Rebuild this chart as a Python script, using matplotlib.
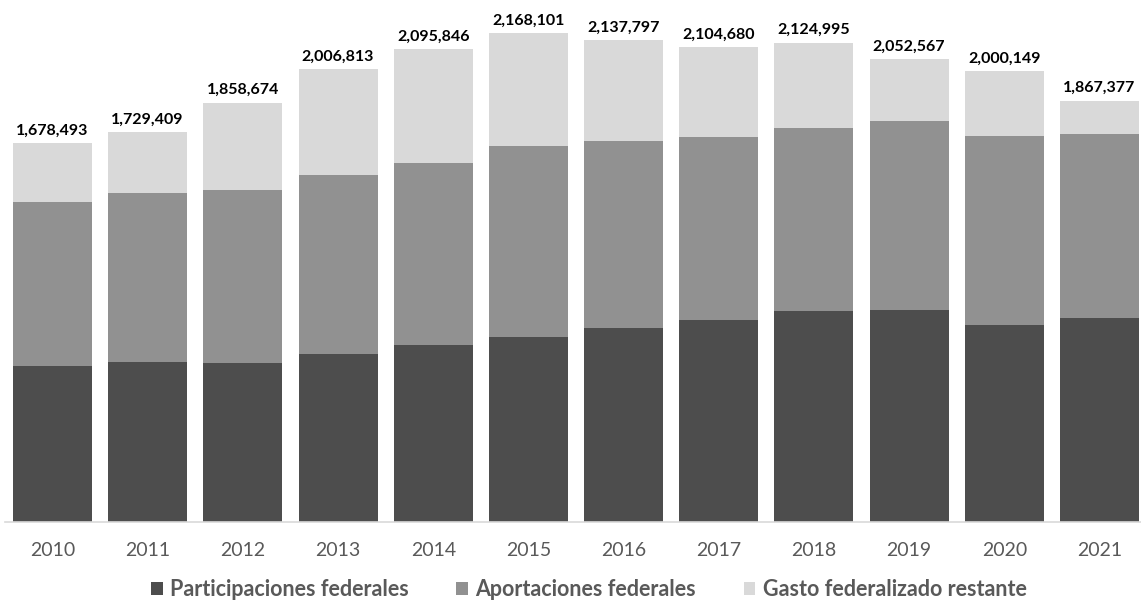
import matplotlib
matplotlib.use("Agg")
import matplotlib.pyplot as plt
import numpy as np

plt.rcParams['font.family'] = ['Lato', 'DejaVu Sans']

years = ['2010', '2011', '2012', '2013', '2014', '2015',
         '2016', '2017', '2018', '2019', '2020', '2021']
totales = [1678493, 1729409, 1858674, 2006813, 2095846, 2168101,
           2137797, 2104680, 2124995, 2052567, 2000149, 1867377]
participaciones = [690000, 708000, 703000, 746000, 783000, 820000,
                   857000, 894000, 933000, 939000, 872000, 903000]
aportaciones = [728000, 750000, 768000, 792000, 807000, 845000,
                832000, 814000, 812000, 838000, 839000, 817000]
gasto_restante = [t - p - a for t, p, a in zip(totales, participaciones, aportaciones)]

c_dark = '#4d4d4d'
c_mid = '#919191'
c_light = '#d9d9d9'
txt_gray = '#595959'

fig = plt.figure(figsize=(11.41, 6.03), dpi=100)
ax = fig.add_axes([0.0043, 0.135, 1.001, 0.848])

x = np.arange(len(years))
w = 0.83
p = np.array(participaciones)
a = np.array(aportaciones)
g = np.array(gasto_restante)

ax.bar(x, p, w, color=c_dark, label='Participaciones federales')
ax.bar(x, a, w, bottom=p, color=c_mid, label='Aportaciones federales')
ax.bar(x, g, w, bottom=p + a, color=c_light, label='Gasto federalizado restante')

for xi, t in zip(x, totales):
    ax.annotate(f"{t:,}", (xi, t), xytext=(0, 4), textcoords='offset points',
                ha='center', va='bottom', fontsize=11.5, fontweight='bold', color='black')

ax.set_xlim(-0.5, 11.5)
ax.set_ylim(0, 0.848 * 603 * 4438)
ax.set_xticks(x)
ax.set_xticklabels(years, fontsize=14, color=txt_gray)
ax.tick_params(axis='x', length=0, pad=15)
ax.set_yticks([])
for s in ['top', 'right', 'left']:
    ax.spines[s].set_visible(False)
ax.spines['bottom'].set_color('#d9d9d9')
ax.spines['bottom'].set_linewidth(1.2)

leg = fig.legend(loc='center', bbox_to_anchor=(0.516, 0.022), ncol=3, frameon=False,
                 handlelength=0.55, handleheight=0.55, handletextpad=0.35, columnspacing=2.2,
                 prop={'size': 15.5, 'weight': 'bold'})
for t in leg.get_texts():
    t.set_color(txt_gray)

fig.savefig('out.png', dpi=100)
